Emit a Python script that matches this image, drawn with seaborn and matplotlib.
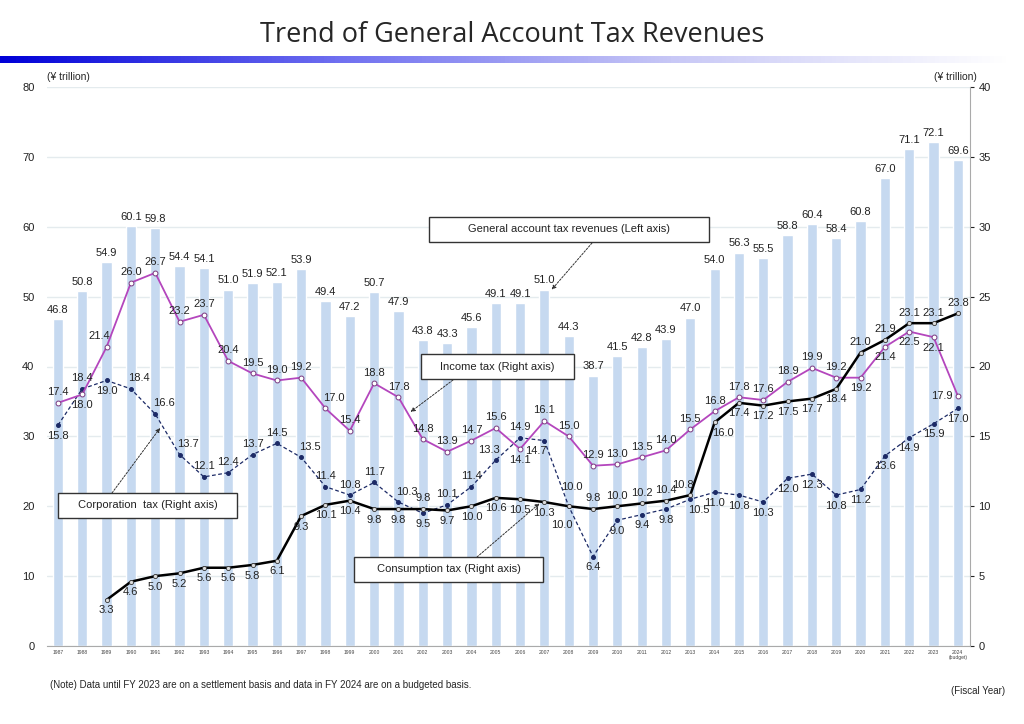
import numpy as np
import pandas as pd
import matplotlib
matplotlib.use("Agg")
import matplotlib.pyplot as plt
import matplotlib.patches as mpatches
from matplotlib.colors import LinearSegmentedColormap
import seaborn as sns

#%% Data (trillion yen)
years = [str(y) for y in range(1987, 2024)] + ["2024\n(budget)"]
total_revenue = [46.8, 50.8, 54.9, 60.1, 59.8, 54.4, 54.1, 51.0, 51.9, 52.1,
                 53.9, 49.4, 47.2, 50.7, 47.9, 43.8, 43.3, 45.6, 49.1, 49.1,
                 51.0, 44.3, 38.7, 41.5, 42.8, 43.9, 47.0, 54.0, 56.3, 55.5,
                 58.8, 60.4, 58.4, 60.8, 67.0, 71.1, 72.1, 69.6]
income_tax = [17.4, 18.0, 21.4, 26.0, 26.7, 23.2, 23.7, 20.4, 19.5, 19.0,
              19.2, 17.0, 15.4, 18.8, 17.8, 14.8, 13.9, 14.7, 15.6, 14.1,
              16.1, 15.0, 12.9, 13.0, 13.5, 14.0, 15.5, 16.8, 17.8, 17.6,
              18.9, 19.9, 19.2, 19.2, 21.4, 22.5, 22.1, 17.9]
corporation_tax = [15.8, 18.4, 19.0, 18.4, 16.6, 13.7, 12.1, 12.4, 13.7, 14.5,
                   13.5, 11.4, 10.8, 11.7, 10.3, 9.5, 10.1, 11.4, 13.3, 14.9,
                   14.7, 10.0, 6.4, 9.0, 9.4, 9.8, 10.5, 11.0, 10.8, 10.3,
                   12.0, 12.3, 10.8, 11.2, 13.6, 14.9, 15.9, 17.0]
# consumption tax starts in 1989
consumption_tax = [3.3, 4.6, 5.0, 5.2, 5.6, 5.6, 5.8, 6.1, 9.3, 10.1,
                   10.4, 9.8, 9.8, 9.8, 9.7, 10.0, 10.6, 10.5, 10.3, 10.0,
                   9.8, 10.0, 10.2, 10.4, 10.8, 16.0, 17.4, 17.2, 17.5, 17.7,
                   18.4, 21.0, 21.9, 23.1, 23.1, 23.8]

# label placement per point (a=above, b=below, l/r = shifted, f = further away)
income_pos = ["a", "b", "al", "a", "a", "a", "a", "a", "a", "a",
              "a", "ar", "a", "a", "a", "a", "a", "a", "a", "b",
              "a", "a", "a", "a", "a", "a", "a", "a", "a", "a",
              "a", "a", "a", "b", "b", "b", "b", "l"]
corp_pos = ["b", "a", "b", "ar", "ar", "ar", "a", "a", "a", "a",
            "ar", "a", "a", "a", "ar", "b", "a", "a", "al", "a",
            "bl", "far", "b", "b", "b", "b", "br", "b", "b", "b",
            "b", "b", "b", "b", "b", "b", "b", "b"]
cons_pos = ["b", "b", "b", "b", "b", "b", "b", "b", "b", "b",
            "b", "b", "b", "a", "b", "b", "b", "b", "b", "fbl",
            "a", "a", "a", "a", "al", "br", "b", "b", "b", "b",
            "b", "a", "a", "a", "a", "a"]

OFFS = {"a": (0, 4, "center", "bottom"), "b": (0, -4, "center", "top"),
        "al": (-5, 4, "center", "bottom"), "ar": (6, 4, "center", "bottom"),
        "bl": (-6, -4, "center", "top"), "br": (6, -4, "center", "top"),
        "far": (2, 10, "center", "bottom"), "fbl": (-5, -10, "center", "top"),
        "l": (-4, 0, "right", "center")}

W, H = 1024, 724
FONT = ["Liberation Sans", "DejaVu Sans"]

sns.set_style("white")
plt.rcParams["font.family"] = FONT

fig = plt.figure(figsize=(W / 100, H / 100), dpi=100)

def fx(px):
    return px / W

def fy(py):
    return 1 - py / H

# title and gradient rule
fig.text(0.5, fy(35), "Trend of General Account Tax Revenues", ha="center", va="center",
         fontsize=19.5, family=["Open Sans", "DejaVu Sans"])
grad_ax = fig.add_axes([0, fy(63), fx(1010), 7 / H])
cmap = LinearSegmentedColormap.from_list("rule", ["#0000d8", "#6f6ff0", "#c8c8f6", "#ffffff"])
grad_ax.imshow(np.linspace(0, 1, 256).reshape(1, -1), aspect="auto", cmap=cmap)
grad_ax.axis("off")

#%% Main axes
ax = fig.add_axes([fx(47), fy(646), fx(970 - 47), (646 - 87) / H])
idx = np.arange(len(years))
df = pd.DataFrame({"idx": idx, "year": years, "total": total_revenue})

sns.barplot(data=df, x="idx", y="total", color="#c6d9f0", width=0.42,
            saturation=1, ax=ax, zorder=2)
for i, v in enumerate(total_revenue):
    ax.annotate(f"{v:.1f}", (i, v), xytext=(0, 3), textcoords="offset points",
                ha="center", va="bottom", fontsize=8, color="#222222")

ax.set_xlim(-0.45, 37.5)
ax.set_ylim(0, 80)
ax.set_yticks(range(0, 81, 10))
ax.set_xticks(idx)
ax.set_xticklabels(years, fontsize=3.6, color="#444444", linespacing=0.9)
ax.tick_params(axis="y", labelsize=8, length=0, pad=9, colors="#222222")
ax.tick_params(axis="x", length=0, pad=3)
ax.set_xlabel("")
ax.set_ylabel("")
ax.grid(axis="y", color="#e4ebee", lw=1, zorder=0)
ax.set_axisbelow(True)
for s in ["left", "top", "right"]:
    ax.spines[s].set_visible(False)
ax.spines["bottom"].set_color("#aaaaaa")

#%% Right axis lines
ax2 = ax.twinx()
sns.lineplot(x=idx, y=income_tax, ax=ax2, color="#b446bd", lw=1.3, marker="o",
             markersize=3.5, markerfacecolor="white", markeredgecolor="#7a3a80",
             markeredgewidth=0.7, zorder=4)
sns.lineplot(x=idx, y=corporation_tax, ax=ax2, color="#1c2a66", lw=0.9,
             linestyle=(0, (3, 2)), marker="o", markersize=2.8,
             markerfacecolor="#1c2a66", markeredgecolor="#1c2a66", zorder=3)
sns.lineplot(x=idx[2:], y=consumption_tax, ax=ax2, color="black", lw=1.8, marker="o",
             markersize=3, markerfacecolor="#dddddd", markeredgecolor="#333333",
             markeredgewidth=0.6, zorder=5)

for vals, pos, start in [(income_tax, income_pos, 0), (corporation_tax, corp_pos, 0),
                         (consumption_tax, cons_pos, 2)]:
    for k, (v, p) in enumerate(zip(vals, pos)):
        dx, dy, ha, va = OFFS[p]
        ax2.annotate(f"{v:.1f}", (start + k, v), xytext=(dx, dy), textcoords="offset points",
                     ha=ha, va=va, fontsize=8, color="#222222", zorder=6)

ax2.set_ylim(0, 40)
ax2.set_yticks(range(0, 41, 5))
ax2.tick_params(axis="y", labelsize=8, length=3, pad=3, colors="#222222")
ax2.set_ylabel("")
for s in ["left", "top", "bottom"]:
    ax2.spines[s].set_visible(False)
ax2.spines["right"].set_color("#aaaaaa")
ax2.grid(False)

fig.text(fx(47), fy(77), "(¥ trillion)", ha="left", va="center", fontsize=7.5)
fig.text(fx(977), fy(77), "(¥ trillion)", ha="right", va="center", fontsize=7.5)

#%% Callout boxes
callouts = [
    ("General account tax revenues (Left axis)", (429, 217, 709, 242), (592, 243), ax, (20.3, 51.0)),
    ("Income tax (Right axis)", (421, 354, 574, 379), (453, 380), ax2, (14.5, 16.75)),
    ("Corporation  tax (Right axis)", (58, 493, 237, 518), (112, 493), ax2, (4.2, 15.6)),
    ("Consumption tax (Right axis)", (354, 557, 543, 582), (477, 557), ax2, (19.8, 10.2)),
]
for label, (x0, y0, x1, y1), (sx, sy), target_ax, xy in callouts:
    fig.patches.append(mpatches.Rectangle((fx(x0), fy(y1)), fx(x1 - x0), (y1 - y0) / H,
                                          transform=fig.transFigure, facecolor="white",
                                          edgecolor="#333333", lw=1, zorder=10))
    fig.text(fx((x0 + x1) / 2), fy((y0 + y1) / 2), label, ha="center", va="center",
             fontsize=8, color="#222222", zorder=11)
    target_ax.annotate("", xy=xy, xycoords="data", xytext=(sx, H - sy),
                       textcoords="figure pixels",
                       arrowprops=dict(arrowstyle="-|>", linestyle=(0, (2, 1.5)), lw=0.7,
                                       color="#333333", mutation_scale=6,
                                       shrinkA=0, shrinkB=0), zorder=7)

fig.text(fx(50), fy(685), "(Note) Data until FY 2023 are on a settlement basis and data in FY 2024 are on a budgeted basis.",
         ha="left", va="center", fontsize=7, family=["Liberation Sans Narrow", "Liberation Sans"])
fig.text(fx(1005), fy(691), "(Fiscal Year)", ha="right", va="center", fontsize=7,
         family=["Liberation Sans Narrow", "Liberation Sans"])

fig.savefig("out.png", dpi=100)
